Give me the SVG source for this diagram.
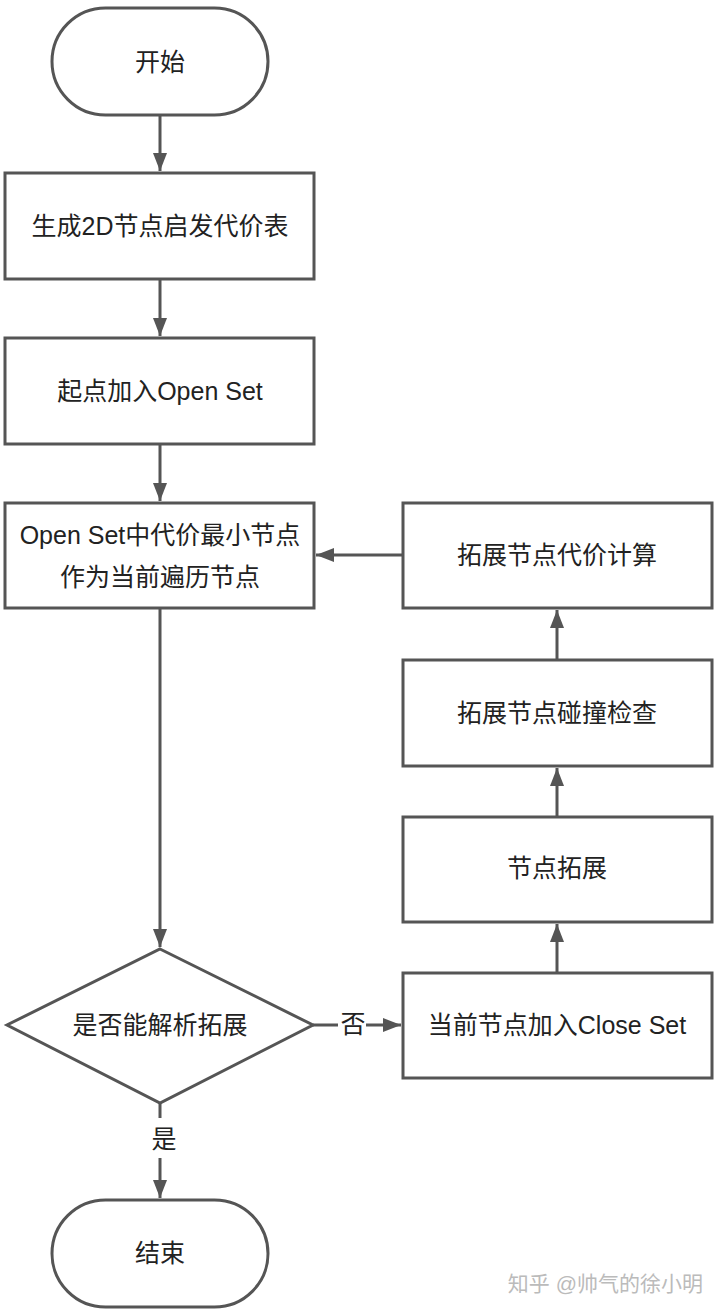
<svg xmlns="http://www.w3.org/2000/svg" width="720" height="1315" viewBox="0 0 720 1315">
<style>
.s{fill:#fff;stroke:#555;stroke-width:3}
.t{font-family:"Liberation Sans","Noto Sans CJK SC",sans-serif;font-size:25px;fill:#222;text-anchor:middle;dominant-baseline:central}
.c{fill:none;stroke:#555;stroke-width:3}
</style>
<defs>
<marker id="a" viewBox="0 0 18 14" refX="18" refY="7" markerWidth="18" markerHeight="14" markerUnits="userSpaceOnUse" orient="auto">
<path d="M0,0 L18,7 L0,14 z" fill="#555"/>
</marker>
</defs>
<rect width="720" height="1315" fill="#fff"/>
<g id="connectors">
<path class="c" d="M160,115 V171" marker-end="url(#a)"/>
<path class="c" d="M160,279 V336" marker-end="url(#a)"/>
<path class="c" d="M160,444 V501" marker-end="url(#a)"/>
<path class="c" d="M160,608 V947" marker-end="url(#a)"/>
<path class="c" d="M160,1103 V1198" marker-end="url(#a)"/>
<path class="c" d="M313,1025 H401" marker-end="url(#a)"/>
<path class="c" d="M557,973 V924" marker-end="url(#a)"/>
<path class="c" d="M557,817 V768" marker-end="url(#a)"/>
<path class="c" d="M557,660 V610" marker-end="url(#a)"/>
<path class="c" d="M403,555 H316" marker-end="url(#a)"/>
<rect x="338" y="1011" width="28" height="28" fill="#fff"/>
<text class="t" x="353" y="1024">否</text>
<rect x="148" y="1118" width="32" height="40" fill="#fff"/>
<text class="t" x="164" y="1139">是</text>
</g>
<g id="start"><rect class="s" x="52" y="8" width="216" height="107" rx="53.5"/><text class="t" x="160" y="62">开始</text></g>
<g id="n1"><rect class="s" x="5" y="173" width="309" height="106"/><text class="t" x="160" y="226">生成2D节点启发代价表</text></g>
<g id="n2"><rect class="s" x="5" y="338" width="309" height="106"/><text class="t" x="160" y="391">起点加入Open Set</text></g>
<g id="n3"><rect class="s" x="5" y="503" width="309" height="105"/><text class="t" x="160" y="535">Open Set中代价最小节点</text><text class="t" x="160" y="577">作为当前遍历节点</text></g>
<g id="decision"><polygon class="s" points="160,949 313,1025 160,1103 7,1025"/><text class="t" x="160" y="1025">是否能解析拓展</text></g>
<g id="end"><rect class="s" x="52" y="1200" width="216" height="107" rx="53.5"/><text class="t" x="160" y="1253">结束</text></g>
<g id="r4"><rect class="s" x="403" y="973" width="309" height="105"/><text class="t" x="557" y="1025">当前节点加入Close Set</text></g>
<g id="r3"><rect class="s" x="403" y="817" width="309" height="105"/><text class="t" x="557" y="868">节点拓展</text></g>
<g id="r2"><rect class="s" x="403" y="660" width="309" height="106"/><text class="t" x="557" y="713">拓展节点碰撞检查</text></g>
<g id="r1"><rect class="s" x="403" y="503" width="309" height="105"/><text class="t" x="557" y="555">拓展节点代价计算</text></g>
<text x="703" y="1283" font-family="Liberation Sans,Noto Sans CJK SC,sans-serif" font-size="21" fill="#bbb" text-anchor="end" dominant-baseline="central">知乎 @帅气的徐小明</text>
</svg>
